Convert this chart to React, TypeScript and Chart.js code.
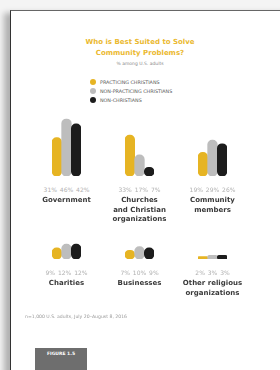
import React, { useEffect, useRef } from "react";
import { Chart, registerables } from "chart.js";

Chart.register(...registerables);

// ---- data ----
const titleLines = ["Who is Best Suited to Solve", "Community Problems?"];
const subtitle = "% among U.S. adults";
const seriesNames = ["PRACTICING CHRISTIANS", "NON-PRACTICING CHRISTIANS", "NON-CHRISTIANS"];
const categories = [
  ["Government"],
  ["Churches", "and Christian", "organizations"],
  ["Community", "members"],
  ["Charities"],
  ["Businesses"],
  ["Other religious", "organizations"],
];
const practicing = [31, 33, 19, 9, 7, 2];
const nonPracticing = [46, 17, 29, 12, 10, 3];
const nonChristians = [42, 7, 26, 12, 9, 3];
const footnote = "n=1,000 U.S. adults, July 20\u2013August 8, 2016";
const figureLabel = "FIGURE 1.5";

// ---- styles ----
const colors = ["#e6b423", "#bdbdbd", "#1c1c1c"];
const FONT = "'DejaVu Sans', sans-serif";
const GROUP_LEFT = [52, 125, 198];
const GROUP_W = 29;
const CANVAS_H = 62;
const Y_MAX = 50;
const ROW_BASE = [176, 259];

function MiniBars({ values, left, baseline }: { values: number[]; left: number; baseline: number }) {
  const ref = useRef<HTMLCanvasElement | null>(null);
  useEffect(() => {
    if (!ref.current) return;
    const chart = new Chart(ref.current, {
      type: "bar",
      data: {
        labels: seriesNames,
        datasets: [
          {
            data: values,
            backgroundColor: colors,
            borderWidth: 0,
            borderRadius: 6,
            borderSkipped: false,
            barPercentage: 1,
            categoryPercentage: 1,
          },
        ],
      },
      options: {
        responsive: false,
        animation: false,
        events: [],
        layout: { padding: 0 },
        plugins: { legend: { display: false }, tooltip: { enabled: false } },
        scales: {
          x: { display: false },
          y: { display: false, min: 0, max: Y_MAX },
        },
      },
    });
    return () => chart.destroy();
  }, [values]);
  return (
    <canvas
      ref={ref}
      width={GROUP_W}
      height={CANVAS_H}
      style={{ position: "absolute", left, top: baseline - CANVAS_H, width: GROUP_W, height: CANVAS_H }}
    />
  );
}

export default function App() {
  return (
    <div
      style={{
        position: "fixed",
        left: 0,
        top: 0,
        width: 280,
        height: 370,
        overflow: "hidden",
        background: "#f4f4f4",
        fontFamily: FONT,
      }}
    >
      <div
        style={{
          position: "absolute",
          left: 10,
          top: 10,
          width: 290,
          height: 380,
          background: "#ffffff",
          borderTop: "1px solid #666",
          borderLeft: "1.5px solid #333",
          boxShadow: "-6px 3px 6px rgba(0,0,0,0.28)",
        }}
      />
      {/* title */}
      <div
        style={{
          position: "absolute",
          left: 40,
          width: 200,
          top: 37,
          textAlign: "center",
          color: "#ebb930",
          fontWeight: "bold",
          fontSize: 7,
          lineHeight: "11px",
        }}
      >
        {titleLines.map((l, i) => (
          <div key={i}>{l}</div>
        ))}
      </div>
      <div
        style={{
          position: "absolute",
          left: 40,
          width: 200,
          top: 61,
          textAlign: "center",
          color: "#888",
          fontSize: 4.5,
          lineHeight: "5px",
        }}
      >
        {subtitle}
      </div>
      {/* legend */}
      {seriesNames.map((s, i) => (
        <div
          key={s}
          style={{
            position: "absolute",
            left: 90,
            top: 79 + i * 9.2,
            height: 6,
            display: "flex",
            alignItems: "center",
            fontSize: 4.8,
            color: "#555",
            whiteSpace: "nowrap",
          }}
        >
          <span
            style={{
              display: "inline-block",
              width: 6,
              height: 6,
              borderRadius: 3,
              background: colors[i],
              marginRight: 4,
            }}
          />
          {s}
        </div>
      ))}
      {/* charts */}
      {categories.map((cat, i) => {
        const col = i % 3;
        const row = Math.floor(i / 3);
        const vals = [practicing[i], nonPracticing[i], nonChristians[i]];
        const base = ROW_BASE[row];
        const center = GROUP_LEFT[col] + GROUP_W / 2;
        return (
          <React.Fragment key={i}>
            <MiniBars values={vals} left={GROUP_LEFT[col]} baseline={base} />
            <div
              style={{
                position: "absolute",
                left: center - 40,
                width: 80,
                top: base + 10,
                textAlign: "center",
                fontSize: 6,
                color: "#b0b0b0",
                lineHeight: "7px",
                whiteSpace: "nowrap",
                wordSpacing: 1,
              }}
            >
              {vals.map((v) => v + "%").join(" ")}
            </div>
            <div
              style={{
                position: "absolute",
                left: center - 40,
                width: 80,
                top: base + 20,
                textAlign: "center",
                fontSize: 7,
                fontWeight: "bold",
                color: "#3a3a3a",
                lineHeight: "9.5px",
                whiteSpace: "nowrap",
              }}
            >
              {cat.map((l, j) => (
                <div key={j}>{l}</div>
              ))}
            </div>
          </React.Fragment>
        );
      })}
      {/* footnote */}
      <div
        style={{
          position: "absolute",
          left: 25,
          top: 314,
          fontSize: 4.6,
          color: "#999",
          whiteSpace: "nowrap",
        }}
      >
        {footnote}
      </div>
      <div
        style={{
          position: "absolute",
          left: 35,
          top: 348,
          width: 52,
          height: 30,
          background: "#6e6e6e",
        }}
      >
        <div
          style={{
            textAlign: "center",
            color: "#fff",
            fontWeight: "bold",
            fontSize: 4.5,
            marginTop: 3,
          }}
        >
          {figureLabel}
        </div>
      </div>
    </div>
  );
}
